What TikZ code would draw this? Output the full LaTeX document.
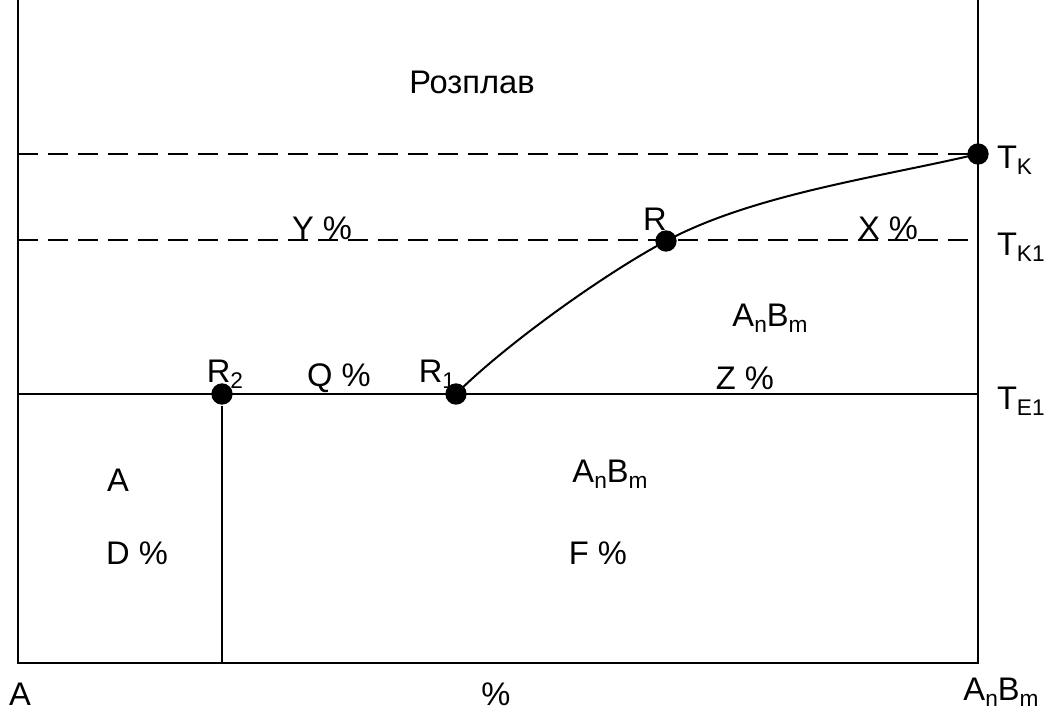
\documentclass[tikz,border=0pt]{standalone}
\usepackage{fontspec}
\setmainfont{Liberation Sans}
\newcommand{\idx}[1]{\raisebox{-0.35ex}{\fontsize{17}{17}\selectfont #1}}
\tikzset{
  dot/.style={circle,fill=black,inner sep=0pt,minimum size=16pt},
  lbl/.style={inner sep=0pt,font=\fontsize{24.5}{28}\selectfont},
  dashline/.style={line width=1.5pt,dash pattern=on 15pt off 7.5pt}
}
\begin{document}
\begin{tikzpicture}[x=0.75pt,y=0.75pt,line width=1.5pt]
\useasboundingbox (0,0) rectangle (1044,-713);
\coordinate (LT) at (18,0);
\coordinate (LB) at (18,-663);
\coordinate (RT) at (978,0);
\coordinate (RB) at (978,-663);
\coordinate (LK) at (18,-154);
\coordinate (LK1) at (18,-240);
\coordinate (RK1) at (978,-240);
\coordinate (LE) at (18,-394);
\coordinate (RE) at (978,-394);
\coordinate (R2B) at (222,-663);

\draw (LT) -- (LB) -- (RB) -- (RT);
\draw[dashline] (LK) -- (978,-154);
\draw[dashline] (LK1) -- (RK1);
\draw (LE) -- (RE);

\node[dot] (TK) at (978,-154) {};
\node[dot] (R) at (666,-241) {};
\node[dot] (R1) at (456,-394) {};
\node[dot] (R2) at (222,-394) {};
\draw (R2) -- (R2B);
% liquidus curve
\draw (R1.center) .. controls (505,-345) and (604,-274) .. (R.center)
  .. controls (754,-194) and (881,-177) .. (TK.center);

\node[lbl] (melt) at (472,-82) {Розплав};
\node[lbl] (y) at (322,-228) {Y \%};
\node[lbl] (x) at (888,-228) {X \%};
\node[lbl] (rl) at (655,-219) {R};
\node[lbl,anchor=west] (tk) at (996,-160) {T\idx{K}};
\node[lbl,anchor=west] (tk1) at (996,-247) {T\idx{K1}};
\node[lbl] (ab1) at (770,-318) {A\idx{n}B\idx{m}};
\node[lbl] (r2l) at (225,-374) {R\idx{2}};
\node[lbl] (q) at (339,-378) {Q \%};
\node[lbl] (r1l) at (437,-374) {R\idx{1}};
\node[lbl] (z) at (745,-378) {Z \%};
\node[lbl,anchor=west] (te1) at (996,-401) {T\idx{E1}};
\node[lbl] (a1) at (118,-480) {A};
\node[lbl] (ab2) at (610,-474) {A\idx{n}B\idx{m}};
\node[lbl] (d) at (137,-553) {D \%};
\node[lbl] (f) at (598,-553) {F \%};
\node[lbl] (a0) at (20,-694) {A};
\node[lbl] (pc) at (496,-694) {\%};
\node[lbl] (ab3) at (1001,-692) {A\idx{n}B\idx{m}};
\end{tikzpicture}
\end{document}
